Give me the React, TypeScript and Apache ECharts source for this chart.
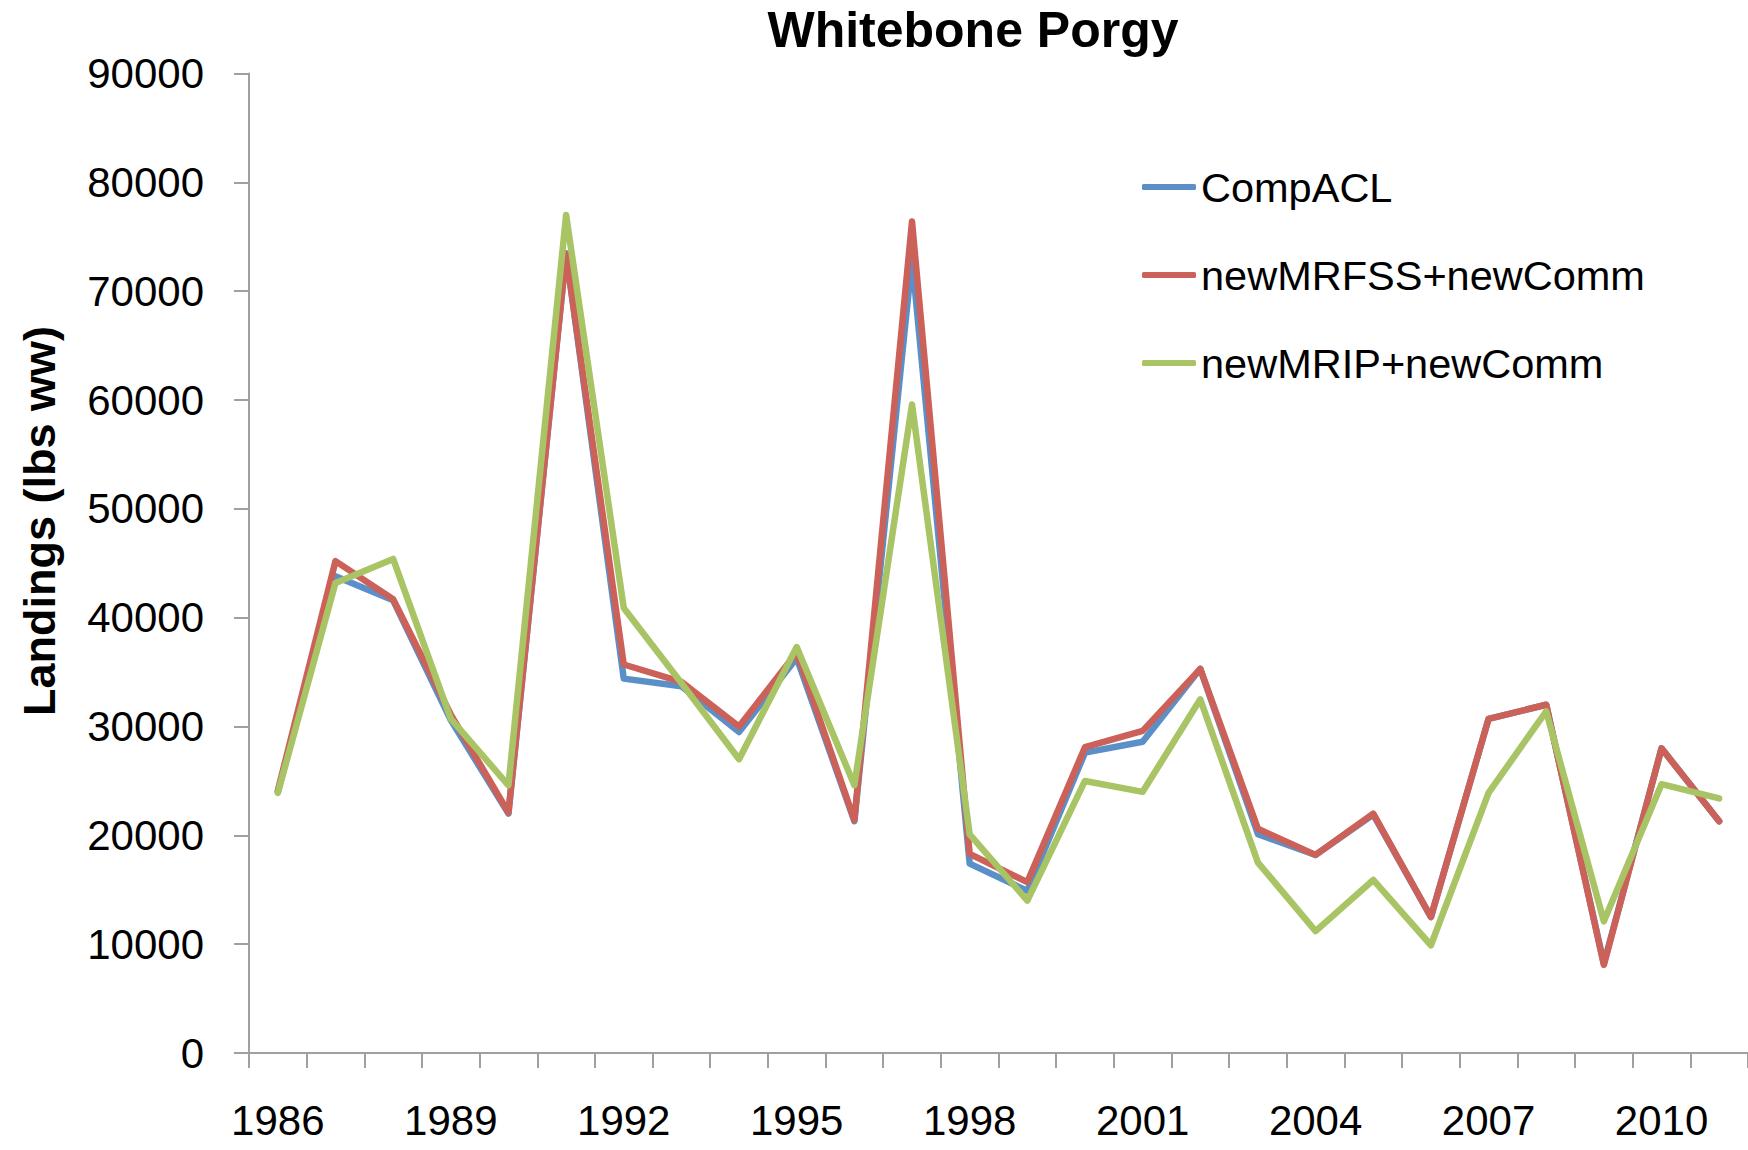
import React, { useEffect, useRef } from "react";
import * as echarts from "echarts";

const years = [
  "1986", "1987", "1988", "1989", "1990", "1991", "1992", "1993", "1994", "1995",
  "1996", "1997", "1998", "1999", "2000", "2001", "2002", "2003", "2004", "2005",
  "2006", "2007", "2008", "2009", "2010", "2011",
];

const compACL = [
  24000, 43800, 41600, 30600, 22000, 73500, 34400, 33700, 29500, 36300,
  21300, 73000, 17400, 14900, 27600, 28600, 35300, 20100, 18200, 21900,
  12500, 30700, 32000, 8200, 28000, 21300,
];

const newMRFSS = [
  24100, 45200, 41700, 31100, 22100, 73400, 35700, 34100, 30000, 36800,
  21400, 76400, 18300, 15700, 28100, 29600, 35300, 20600, 18200, 22000,
  12500, 30700, 32000, 8100, 28000, 21300,
];

const newMRIP = [
  23900, 43200, 45400, 30700, 24600, 77000, 40900, 34000, 27000, 37300,
  24600, 59600, 20100, 14000, 25000, 24000, 32500, 17500, 11200, 15900,
  9900, 23900, 31400, 12100, 24700, 23400,
];

const seriesNames = ["CompACL", "newMRFSS+newComm", "newMRIP+newComm"];
const seriesColors = ["#5b8fc8", "#cb6159", "#a8c464"];

export default function App() {
  const ref = useRef<HTMLDivElement>(null);

  useEffect(() => {
    if (!ref.current) return;
    const chart = echarts.init(ref.current, undefined, { renderer: "svg" });
    const dataSets = [compACL, newMRFSS, newMRIP];
    chart.setOption({
      animation: false,
      backgroundColor: "#ffffff",
      title: {
        text: "Whitebone Porgy",
        left: 968,
        top: 0,
        textAlign: "center",
        textStyle: {
          fontFamily: "Liberation Sans, Arial, sans-serif",
          fontWeight: "bold",
          fontSize: 50,
          color: "#000000",
        },
      },
      legend: {
        orient: "vertical",
        left: 1137,
        top: 161,
        itemWidth: 54,
        itemHeight: 6,
        itemGap: 46,
        icon: "roundRect",
        data: seriesNames,
        textStyle: {
          fontFamily: "Liberation Sans, Arial, sans-serif",
          fontSize: 41.5,
          lineHeight: 41,
          color: "#000000",
        },
      },
      graphic: [
        {
          type: "text",
          x: 39,
          y: 521,
          rotation: Math.PI / 2,
          style: {
            text: "Landings (lbs ww)",
            textAlign: "center",
            textVerticalAlign: "middle",
            fontFamily: "Liberation Sans, Arial, sans-serif",
            fontWeight: "bold",
            fontSize: 45,
            fill: "#000000",
          },
        },
      ],
      grid: {
        left: 249,
        right: 0,
        top: 73.6,
        bottom: 97,
        containLabel: false,
      },
      xAxis: {
        type: "category",
        data: years,
        boundaryGap: true,
        axisLine: { lineStyle: { color: "#a0a0a0", width: 2 } },
        axisTick: {
          show: true,
          interval: 0,
          alignWithLabel: false,
          length: 15,
          lineStyle: { color: "#a0a0a0", width: 2 },
        },
        axisLabel: {
          interval: 2,
          margin: 45,
          fontFamily: "Liberation Sans, Arial, sans-serif",
          fontSize: 42,
          lineHeight: 44,
          color: "#000000",
        },
        splitLine: { show: false },
      },
      yAxis: {
        type: "value",
        min: 0,
        max: 90000,
        interval: 10000,
        axisLine: { show: true, lineStyle: { color: "#a0a0a0", width: 2 } },
        axisTick: { show: true, length: 15, lineStyle: { color: "#a0a0a0", width: 2 } },
        axisLabel: {
          margin: 45,
          formatter: (v: number) => String(v),
          fontFamily: "Liberation Sans, Arial, sans-serif",
          fontSize: 42,
          color: "#000000",
        },
        splitLine: { show: false },
      },
      series: seriesNames.map((name, i) => ({
        name,
        type: "line",
        data: dataSets[i],
        symbol: "none",
        showSymbol: false,
        color: seriesColors[i],
        lineStyle: { color: seriesColors[i], width: 6.5, cap: "round", join: "round" },
        itemStyle: { color: seriesColors[i] },
        z: 2 + i,
      })),
    });
    return () => chart.dispose();
  }, []);

  return (
    <div
      ref={ref}
      style={{ position: "fixed", left: 0, top: 0, width: 1748, height: 1150 }}
    />
  );
}
